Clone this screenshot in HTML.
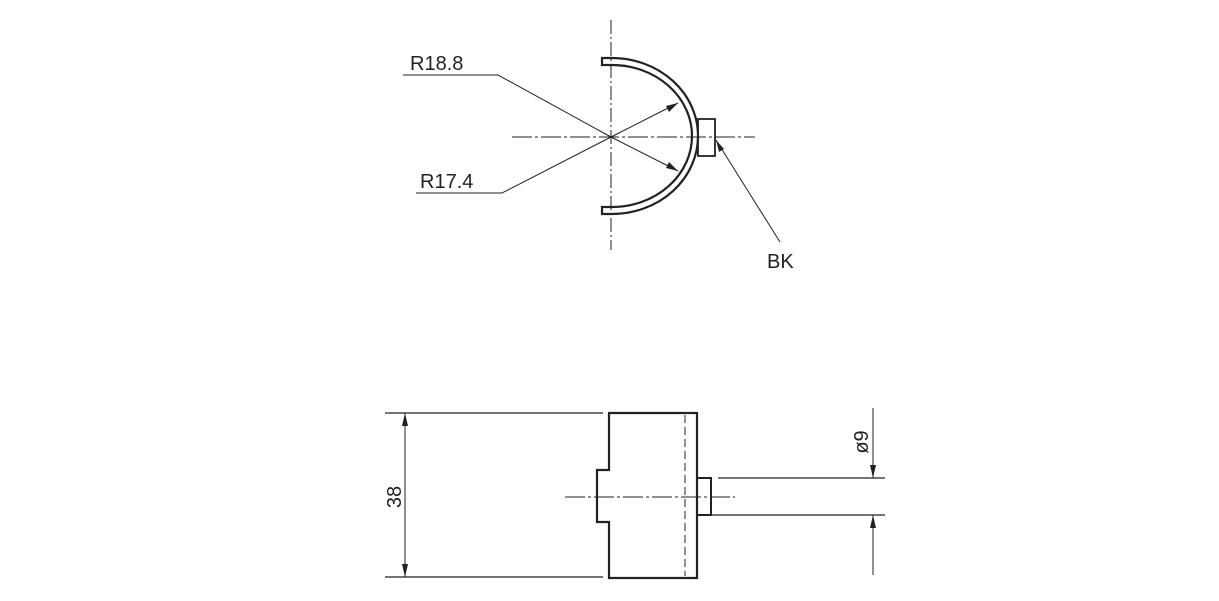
<!DOCTYPE html>
<html><head><meta charset="utf-8"><style>
html,body{margin:0;padding:0;background:#fff;}
svg{display:block;}
text{font-family:"Liberation Sans",sans-serif;fill:#222;}
</style></head><body>
<svg width="1219" height="601" viewBox="0 0 1219 601" xmlns="http://www.w3.org/2000/svg">
<g stroke="#222" fill="none">
<!-- top view centerlines -->
<line x1="611" y1="20" x2="611" y2="250" stroke-width="1" stroke-dasharray="14,3,2,3"/>
<line x1="512" y1="137" x2="755" y2="137" stroke-width="1" stroke-dasharray="20,3,3,3"/>
<!-- arc -->
<path d="M602,58 L612,58 A86,78 0 0 1 612,214 L602,214 L602,207 L612,207 A80,71 0 0 0 612,65 L602,65 Z" stroke-width="2.2"/>
<!-- BK box -->
<rect x="698" y="119" width="17" height="37" stroke-width="1.8"/>
<!-- leaders -->
<polyline points="403,75 498,75 611,137" stroke-width="1"/>
<polyline points="416,193 502,193 611,137" stroke-width="1"/>
<line x1="611" y1="137" x2="678" y2="103" stroke-width="1"/>
<line x1="611" y1="137" x2="678" y2="171" stroke-width="1"/>
<line x1="716" y1="140" x2="780" y2="242" stroke-width="1"/>
<!-- bottom view -->
<line x1="385" y1="413" x2="603" y2="413" stroke-width="1.2"/>
<line x1="385" y1="577" x2="603" y2="577" stroke-width="1.2"/>
<path d="M609,413 L697,413 L697,578 L609,578 L609,522 L597,522 L597,470 L609,470 Z" stroke-width="2.2"/>
<line x1="685" y1="415" x2="685" y2="576" stroke-width="1" stroke-dasharray="8,4"/>
<rect x="697" y="478" width="14" height="37" stroke-width="2"/>
<line x1="565" y1="497" x2="735" y2="497" stroke-width="1" stroke-dasharray="20,3,3,3"/>
<line x1="718" y1="478" x2="885" y2="478" stroke-width="1.2"/>
<line x1="712" y1="515" x2="885" y2="515" stroke-width="1.2"/>
<line x1="405" y1="413" x2="405" y2="577" stroke-width="1"/>
<line x1="873" y1="408" x2="873" y2="478" stroke-width="1"/>
<line x1="873" y1="515" x2="873" y2="575" stroke-width="1"/>
</g>
<g fill="#222">
<polygon points="405,413 402,426 408,426"/>
<polygon points="405,577 402,564 408,564"/>
<polygon points="873,478 870,465 876,465"/>
<polygon points="873,515 870,528 876,528"/>
<polygon points="678,103 666,106 669,112"/>
<polygon points="678,171 666,168 669,162"/>
<polygon points="716,140 719,152 724,149"/>
</g>
<text x="410" y="70" font-size="20">R18.8</text>
<text x="420" y="188" font-size="20">R17.4</text>
<text x="767" y="268" font-size="20">BK</text>
<text transform="translate(401,497) rotate(-90)" font-size="20" text-anchor="middle">38</text>
<text transform="translate(868,442) rotate(-90)" font-size="20" text-anchor="middle">ø9</text>
</svg>
</body></html>
